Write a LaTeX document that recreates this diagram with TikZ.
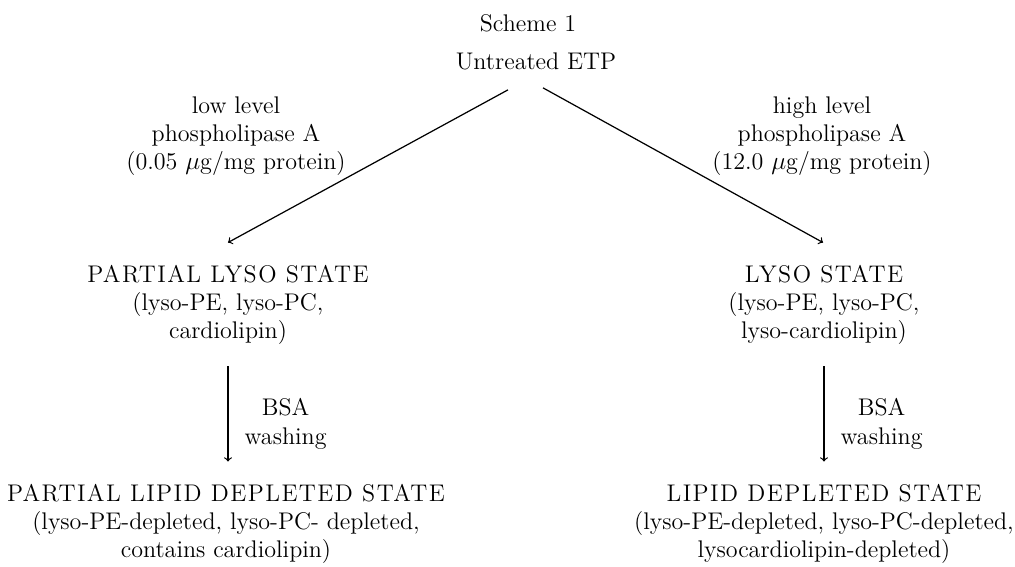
\documentclass[tikz,border=0pt]{standalone}
\usepackage{fontspec}
\usetikzlibrary{calc}
\newfontfamily\capsfont{lmroman12-regular.otf}[LetterSpace=6]
\tikzset{
  every node/.style={inner sep=0pt, font=\fontsize{13.7pt}{16.2pt}\selectfont},
  block/.style={align=center, anchor=base},
  arr/.style={->, line width=0.7pt},
  wash/.style={align=center, anchor=west, xshift=0.32cm, yshift=-0.2cm}
}
\begin{document}
\begin{tikzpicture}[x=0.02cm, y=-0.02cm]
\useasboundingbox (0,0) rectangle (1015,567);
% top
\node[anchor=base] (scheme) at (528,32) {Scheme 1};
\node[anchor=base] (etp) at (536,70) {Untreated ETP};
% enzyme levels (base = last line)
\node[block] (lowdose) at (236,170) {low level\\phospholipase A\\(0.05 $\mu$g/mg protein)};
\node[block] (highdose) at (822,170) {high level\\phospholipase A\\(12.0 $\mu$g/mg protein)};
% lyso states
\node[block] (plyso) at (228,339) {{\capsfont PARTIAL LYSO STATE}\\(lyso-PE, lyso-PC,\\cardiolipin)};
\node[block] (lyso) at (824,339) {{\capsfont LYSO STATE}\\(lyso-PE, lyso-PC,\\lyso-cardiolipin)};
% depleted states
\node[block] (pld) at (226,558) {{\capsfont PARTIAL LIPID DEPLETED STATE}\\(lyso-PE-depleted, lyso-PC- depleted,\\contains cardiolipin)};
\node[block] (ld) at (824,558) {{\capsfont LIPID DEPLETED STATE}\\(lyso-PE-depleted, lyso-PC-depleted,\\lysocardiolipin-depleted)};
% arrows
\draw[arr] ($(etp.south)+(-28,19)$) -- ($(plyso.north)+(0,-22)$);
\draw[arr] ($(etp.south)+(7,17)$) -- ($(lyso.north)+(-1,-22)$);
\draw[arr] ($(plyso.south)+(0,21)$) -- node[wash] {BSA\\washing} ($(plyso.south |- pld.north)+(0,-22)$);
\draw[arr] ($(lyso.south)+(0,21)$) -- node[wash] {BSA\\washing} ($(ld.north)+(0,-22)$);
\end{tikzpicture}
\end{document}
